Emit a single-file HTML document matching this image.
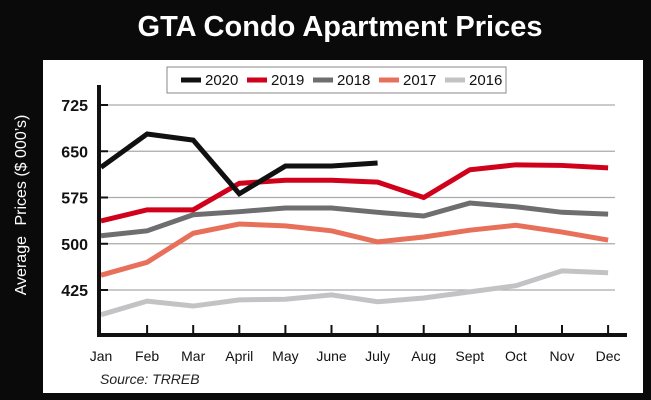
<!DOCTYPE html>
<html><head><meta charset="utf-8"><style>
body{margin:0;background:#000;}
svg{display:block;font-family:"Liberation Sans",sans-serif;}
</style></head><body>
<svg width="651" height="400" viewBox="0 0 651 400">
<rect x="0" y="0" width="651" height="400" fill="#0a0a0a"/>
<text x="340" y="36" text-anchor="middle" fill="#fff" font-size="29" font-weight="bold">GTA Condo Apartment Prices</text>
<rect x="43" y="60" width="600" height="333" fill="#fff"/>
<text transform="translate(26,205) rotate(-90)" text-anchor="middle" fill="#fff" font-size="16">Average <tspan dx="6">Prices ($ 000’s)</tspan></text>
<g id="grid"></g><g id="series"></g><g id="axes"></g>
<g>
<rect x="167" y="67" width="339" height="26" fill="#fff" stroke="#888" stroke-width="1"/>
<g id="legend"></g></g>
<text x="100" y="384" font-size="14" font-style="italic" fill="#222">Source: TRREB</text>
</svg>
<script>
const months=["Jan","Feb","Mar","April","May","June","July","Aug","Sept","Oct","Nov","Dec"];
const yTicks=[725,650,575,500,425];
const seriesNames=["2020","2019","2018","2017","2016"];
const v2020=[624,678,668,581,626,626,631];
const v2019=[537,555,555,598,603,603,600,575,620,628,627,623];
const v2018=[513,521,547,552,558,558,551,545,566,560,551,548];
const v2017=[449,470,517,532,529,521,503,511,522,530,519,506];
const v2016=[385,407,399,409,410,417,406,412,422,432,456,453];
const colors=["#111","#d0021b","#6e6e70","#e8705a","#c3c3c6"];
const ns="http://www.w3.org/2000/svg";
const xS=i=>101+i*46.1;
const yS=v=>105+(725-v)*0.6167;
function mk(t,a,p){const e=document.createElementNS(ns,t);for(const k in a)e.setAttribute(k,a[k]);p.appendChild(e);return e;}
const grid=document.getElementById('grid'),axes=document.getElementById('axes'),ser=document.getElementById('series'),leg=document.getElementById('legend');
yTicks.forEach(v=>{
 const g=mk('line',{x1:100,x2:615,y1:yS(v),y2:yS(v),stroke:'#aaa','stroke-width':1.3},grid);
 
 
 const tk=mk('line',{x1:99,x2:108,y1:yS(v),y2:yS(v),stroke:'#111','stroke-width':2},axes);
 
 
 const t=mk('text',{x:88,y:yS(v)+6,'text-anchor':'end','font-size':16,'font-weight':'bold',fill:'#111'},axes);
 t.textContent=v;
 
 
});
const ya=mk('line',{x1:99,x2:99,y1:85,y2:337,stroke:'#111','stroke-width':4},axes);


const xa=mk('line',{x1:97,x2:627,y1:335,y2:335,stroke:'#111','stroke-width':4},axes);


months.forEach((m,i)=>{
 if(i>0){const tk=mk('line',{x1:xS(i),x2:xS(i),y1:325,y2:335,stroke:'#111','stroke-width':2},axes);
 
 }
 const t=mk('text',{x:xS(i),y:361,'text-anchor':'middle','font-size':14,fill:'#111'},axes);
 t.textContent=m;
 
 
});
[v2020,v2019,v2018,v2017,v2016].slice().reverse().forEach((vals,ri)=>{
 const k=4-ri;
 const p=mk('polyline',{points:vals.map((v,i)=>xS(i)+','+yS(v)).join(' '),fill:'none',stroke:colors[k],'stroke-width':5,'stroke-linejoin':'miter'},ser);
 
 
});
const lx=[181,247,313,379,445];
seriesNames.forEach((s,k)=>{
 const l=mk('line',{x1:lx[k],x2:lx[k]+20,y1:80,y2:80,stroke:colors[k],'stroke-width':5},leg);
 
 
 const t=mk('text',{x:lx[k]+24,y:85,'font-size':15,fill:'#111'},leg);
 t.textContent=s;
 
 
});
</script>
</body></html>
